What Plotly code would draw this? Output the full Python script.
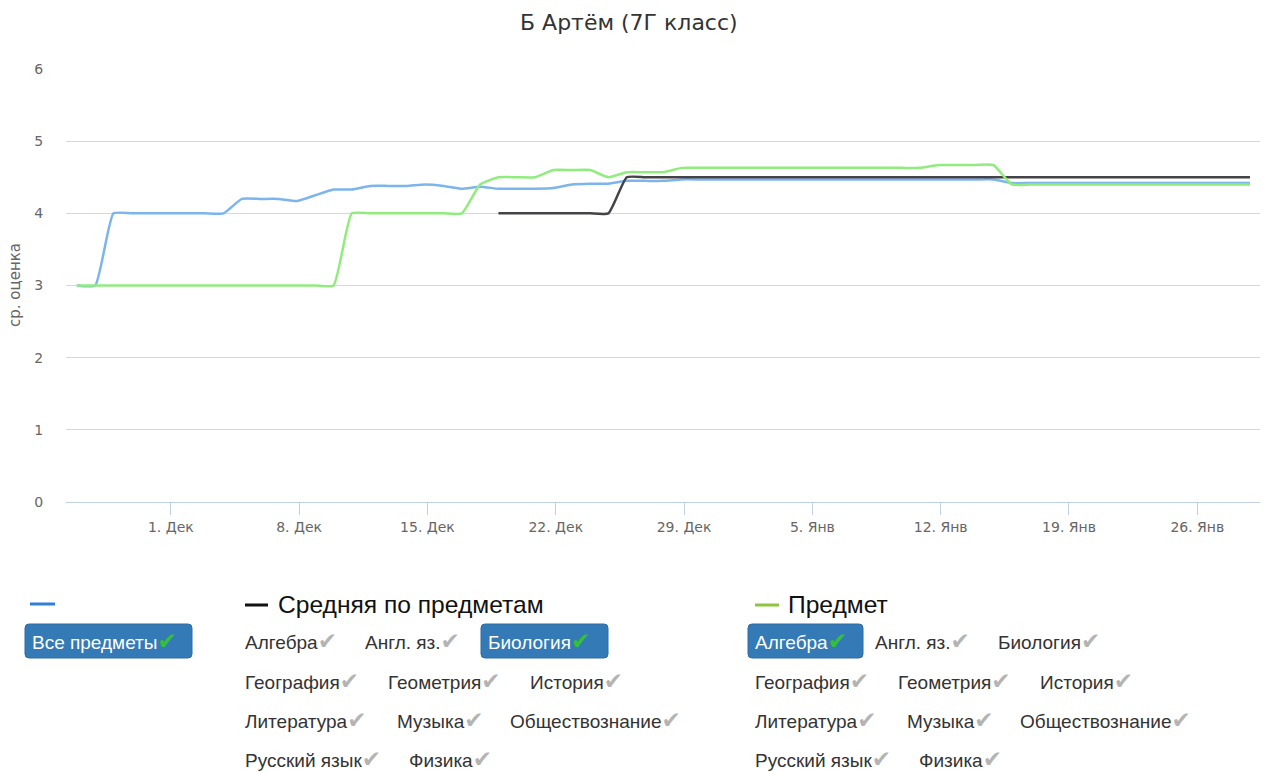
import pandas as pd
import plotly.graph_objects as go

# ---------------- data ----------------
# one point per day; timestamps are Moscow midnight displayed in UTC (-3 h)
dates = pd.date_range("2014-11-26", "2015-01-29", freq="D")

# "Все предметы" – average over all subjects
all_subjects = (
    [3.0, 3.0, 4.0, 4.0, 4.0, 4.0, 4.0, 4.0, 4.0,          # Nov26..Dec4
     4.2, 4.2, 4.2, 4.17, 4.25, 4.33, 4.33,                 # Dec5..Dec11
     4.38, 4.38, 4.38, 4.40, 4.38, 4.34, 4.37,              # Dec12..Dec18
     4.34, 4.34, 4.34, 4.35, 4.40, 4.41, 4.41,              # Dec19..Dec25
     4.45, 4.45, 4.45, 4.47]                                # Dec26..Dec29
    + [4.47] * 17                                           # Dec30..Jan15
    + [4.42] * 14                                           # Jan16..Jan29
)

# "Средняя по предметам" (Биология selected)
subject_avg = [None] * 23 + [4.0] * 7 + [4.5] * 35

# "Предмет" (Алгебра selected)
subject = (
    [3.0] * 15            # Nov26..Dec10
    + [4.0] * 7           # Dec11..Dec17
    + [4.4]               # Dec18
    + [4.5] * 3           # Dec19..Dec21
    + [4.6] * 3           # Dec22..Dec24
    + [4.5]               # Dec25
    + [4.57] * 3          # Dec26..Dec28
    + [4.63] * 14         # Dec29..Jan11
    + [4.67] * 4          # Jan12..Jan15
    + [4.40] * 14         # Jan16..Jan29
)

tick_dates = ["2014-12-01", "2014-12-08", "2014-12-15", "2014-12-22", "2014-12-29",
              "2015-01-05", "2015-01-12", "2015-01-19", "2015-01-26"]
tick_labels = ["1. Дек", "8. Дек", "15. Дек", "22. Дек", "29. Дек",
               "5. Янв", "12. Янв", "19. Янв", "26. Янв"]

title_text = "Б Артём (7Г класс)"
y_title = "ср. оценка"
series_names = ["", "Средняя по предметам", "Предмет"]
subjects = ["Алгебра", "Англ. яз.", "Биология", "География", "Геометрия", "История",
            "Литература", "Музыка", "Обществознание", "Русский язык", "Физика"]
all_label = "Все предметы"
selected_avg = "Биология"
selected_subject = "Алгебра"

# ---------------- layout helpers ----------------
W, H = 1265, 772
L, R, T, B = 66, 1260, 69, 502


def px(x):
    return (x - L) / (R - L)


def py(y):
    return (B - y) / (B - T)


x_vals = dates - pd.Timedelta(hours=3)

colors = ["#7cb5ec", "#434348", "#90ed7d"]
fig = go.Figure()
for vals, col, name in zip([all_subjects, subject_avg, subject], colors, series_names):
    fig.add_trace(go.Scatter(
        x=x_vals, y=vals, mode="lines", name=name,
        line=dict(color=col, width=2.5, shape="spline", smoothing=0.45),
        connectgaps=False, showlegend=False, hoverinfo="skip"))

shapes = []
annotations = []

annotations.append(dict(text=title_text, x=px(629), y=py(22), xref="paper", yref="paper",
                        xanchor="center", yanchor="middle", showarrow=False,
                        font=dict(family="DejaVu Sans", size=22, color="#333333")))
annotations.append(dict(text=y_title, x=px(15), y=py(285), xref="paper", yref="paper",
                        xanchor="center", yanchor="middle", showarrow=False, textangle=-90,
                        font=dict(family="DejaVu Sans", size=15, color="#666666")))

# legend dashes
for (x0, x1, yy, c) in [(30, 55, 604, "#2f7ed8"), (245, 268, 605, "#111111"), (755, 779, 605, "#8cc63f")]:
    shapes.append(dict(type="line", xref="paper", yref="paper", x0=px(x0), x1=px(x1),
                       y0=py(yy), y1=py(yy), line=dict(color=c, width=3)))

for name, x0 in [(series_names[1], 276), (series_names[2], 786)]:
    annotations.append(dict(text=name, x=px(x0), y=py(604), xref="paper", yref="paper",
                            xanchor="left", yanchor="middle", showarrow=False,
                            font=dict(family="Liberation Sans", size=24.6, color="#111111")))


def rounded_rect(x0, y0, x1, y1, r=4):
    P = lambda a, b: f"{px(a)},{py(b)}"
    return (f"M {P(x0 + r, y0)} L {P(x1 - r, y0)} Q {P(x1, y0)} {P(x1, y0 + r)} "
            f"L {P(x1, y1 - r)} Q {P(x1, y1)} {P(x1 - r, y1)} L {P(x0 + r, y1)} "
            f"Q {P(x0, y1)} {P(x0, y1 - r)} L {P(x0, y0 + r)} Q {P(x0, y0)} {P(x0 + r, y0)} Z")


def item(label, x, y, selected, btn_w=None):
    if selected:
        shapes.append(dict(type="path", xref="paper", yref="paper",
                           path=rounded_rect(x - 7, y - 18, x - 7 + btn_w, y + 16),
                           fillcolor="#337ab7", line=dict(color="#2e6da4", width=1), layer="below"))
    tcol = "#ffffff" if selected else "#333333"
    ccol = "#33c233" if selected else "#b4b4b4"
    annotations.append(dict(
        text=f"{label}<span style=\"font-family:DejaVu Sans;font-size:23px;color:{ccol}\">✔</span>",
        x=px(x - 2), y=py(y - 1), xref="paper", yref="paper", xanchor="left", yanchor="middle",
        showarrow=False, font=dict(family="Liberation Sans", size=19, color=tcol)))


item(all_label, 32, 642, True, 167)

rows = [[0, 1, 2], [3, 4, 5], [6, 7, 8], [9, 10]]
row_y = [642, 682, 721, 760]
offsets = [[0, 120, 243], [0, 143, 285], [0, 152, 265], [0, 164]]
btn_widths = {"Биология": 127, "Алгебра": 115}
for col_x, sel in [(245, selected_avg), (755, selected_subject)]:
    for r, idxs in enumerate(rows):
        for k, i in enumerate(idxs):
            lab = subjects[i]
            item(lab, col_x + offsets[r][k], row_y[r], lab == sel, btn_widths.get(lab))

fig.update_layout(
    width=W, height=H,
    margin=dict(l=L, r=W - R, t=T, b=H - B),
    paper_bgcolor="white", plot_bgcolor="white",
    shapes=shapes, annotations=annotations,
    xaxis=dict(type="date", range=["2014-11-25 06:47", "2015-01-29 10:05"],
               tickvals=tick_dates, ticktext=tick_labels, ticks="outside", ticklen=12,
               tickcolor="#C0D0E0", showline=True, linecolor="#C0D0E0", linewidth=1,
               showgrid=False, zeroline=False,
               tickfont=dict(family="DejaVu Sans", size=14, color="#666666")),
    yaxis=dict(range=[0, 6], tickvals=[0, 1, 2, 3, 4, 5, 6], gridcolor="#D8D8D8",
               zeroline=False, showline=False, ticks="outside", ticklen=19,
               tickcolor="rgba(0,0,0,0)",
               tickfont=dict(family="DejaVu Sans", size=14, color="#666666")),
)

fig.write_html("out.html", config={"displayModeBar": False},
               post_script="document.body.style.margin='0';")
